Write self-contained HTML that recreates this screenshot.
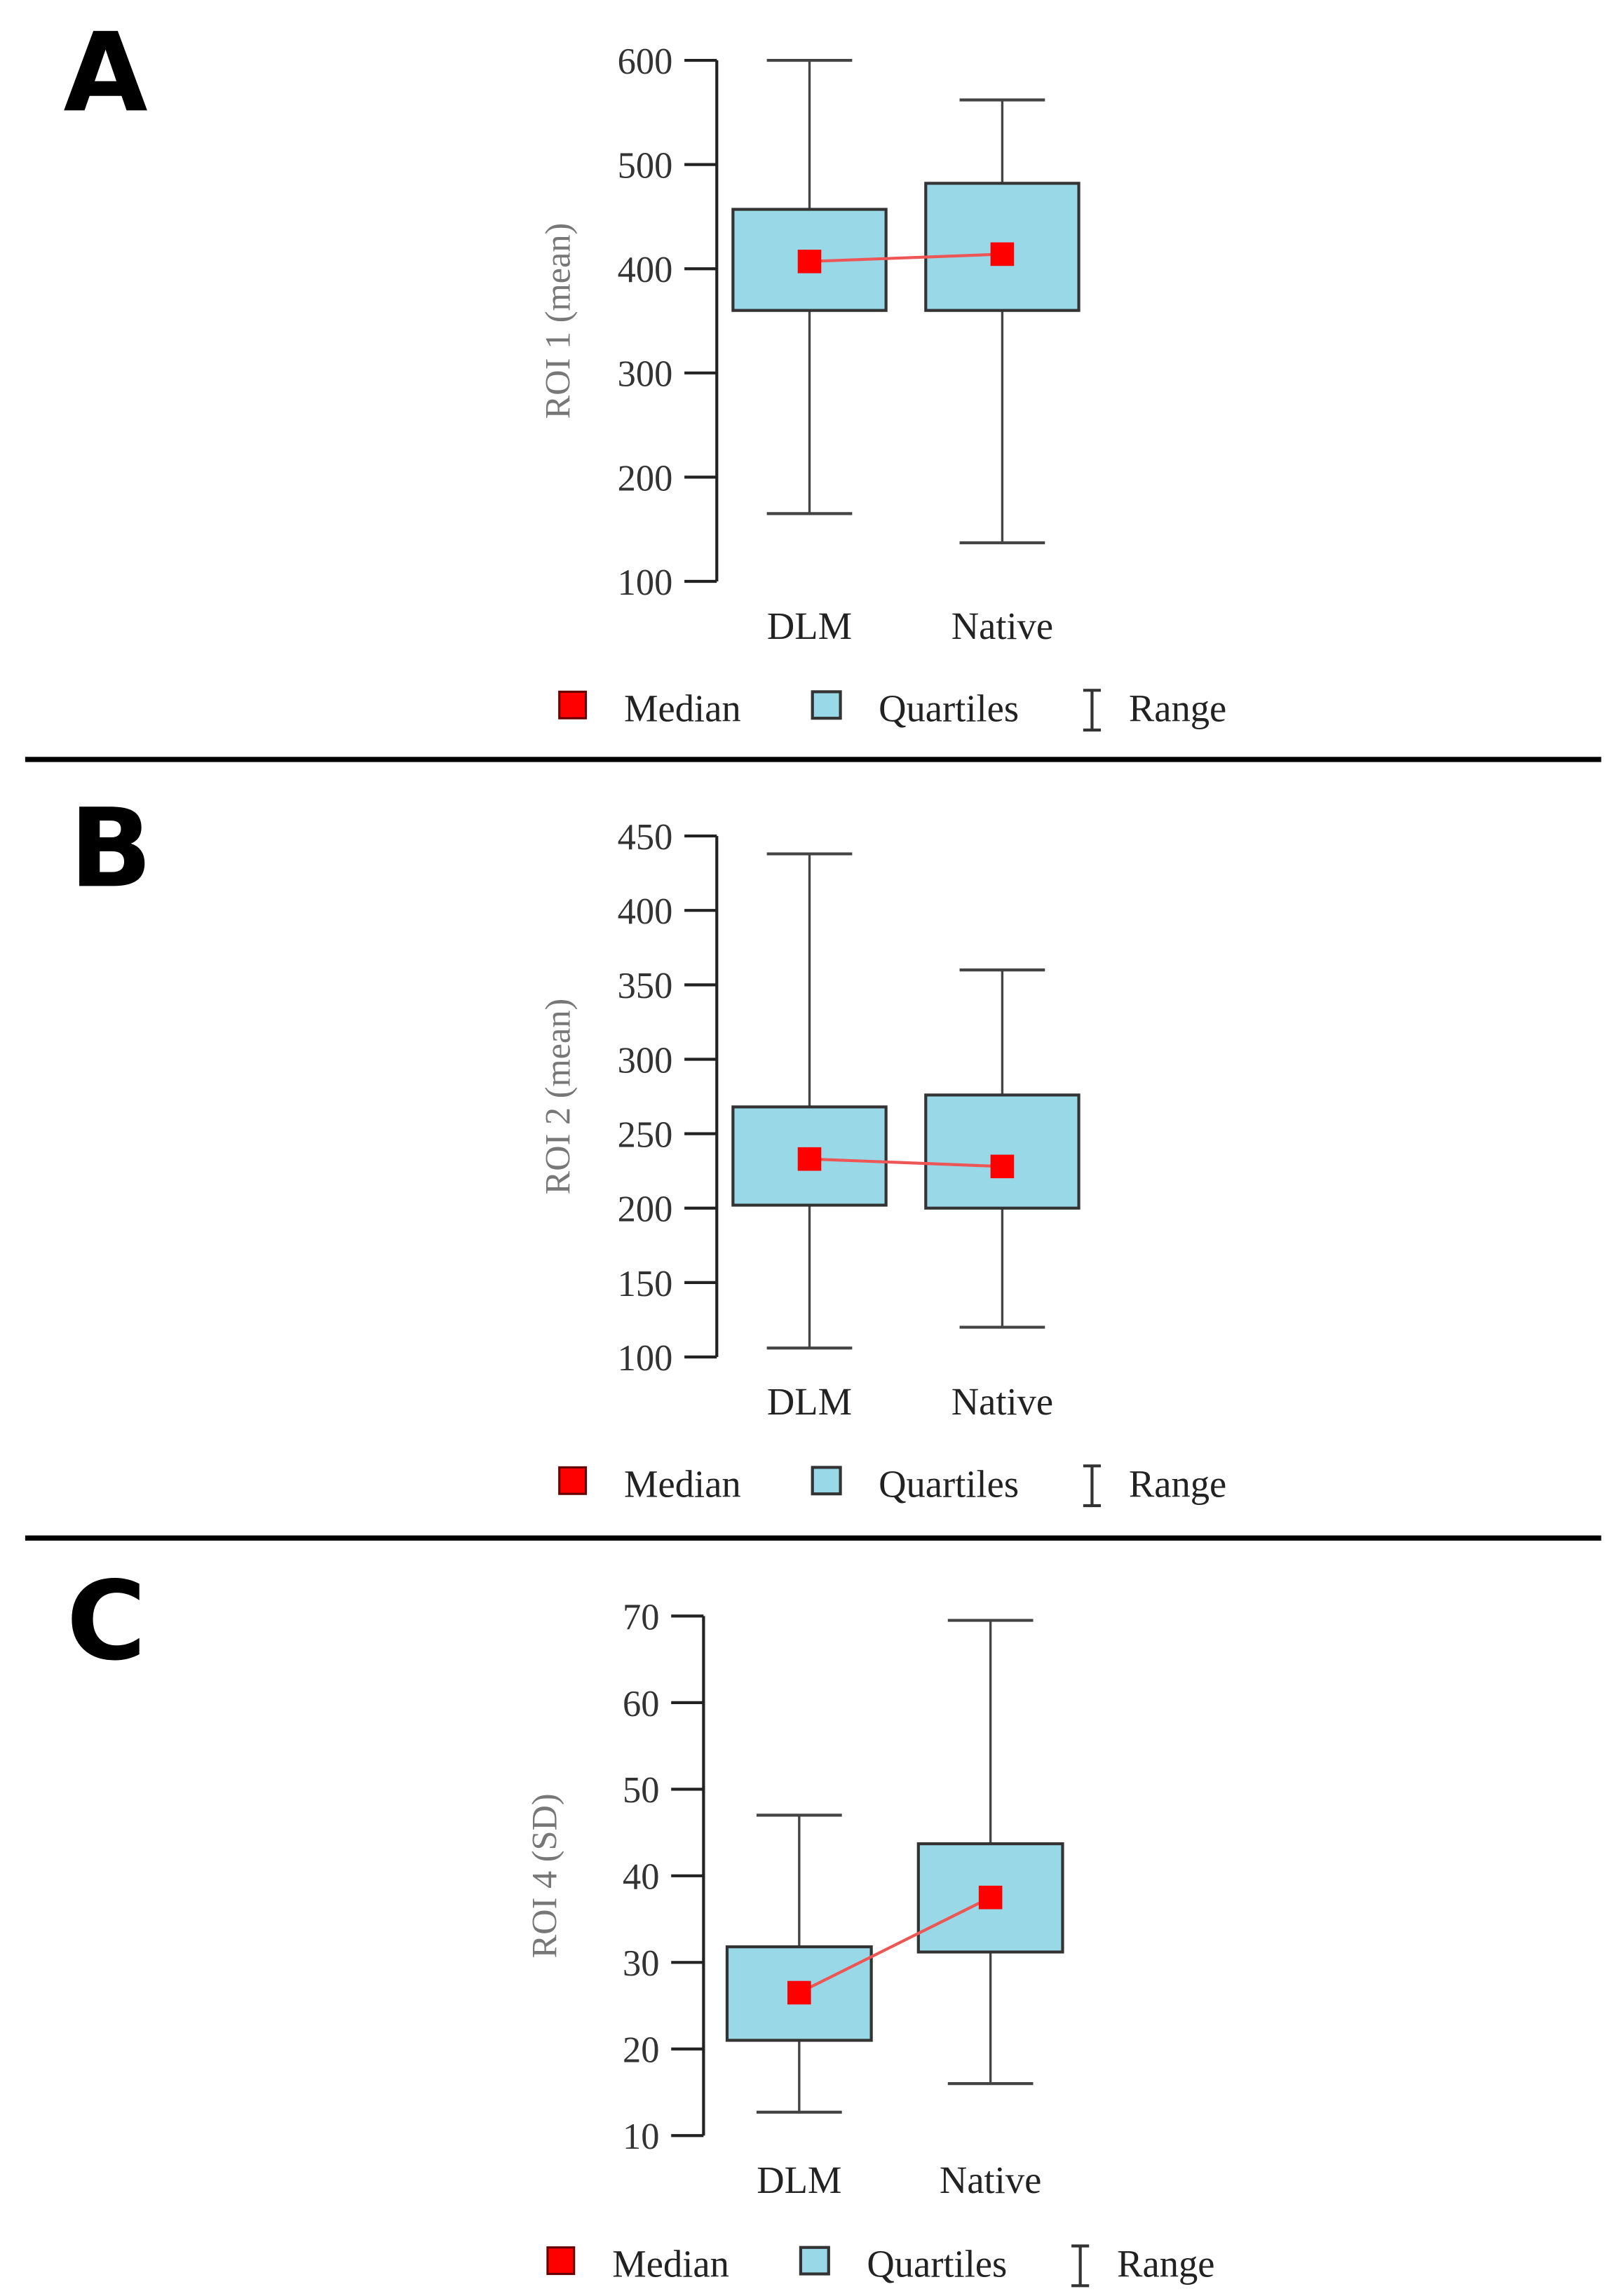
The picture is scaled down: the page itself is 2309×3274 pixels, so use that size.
<!DOCTYPE html>
<html><head><meta charset="utf-8">
<style>
html,body{margin:0;padding:0;background:#fff;}
svg{display:block;}
</style></head>
<body>
<svg id="fig" width="2309" height="3274" viewBox="0 0 1100 1560" xmlns="http://www.w3.org/2000/svg">
</svg>
<script>
// Panel A data
const catsA = ["DLM", "Native"];
const minA = [165, 137];
const q1A = [360, 360];
const medA = [407, 414];
const q3A = [457, 482];
const maxA = [600, 562];
const ticksA = [100, 200, 300, 400, 500, 600];
// Panel B data
const catsB = ["DLM", "Native"];
const minB = [106, 120];
const q1B = [202, 200];
const medB = [233, 228];
const q3B = [268, 276];
const maxB = [438, 360];
const ticksB = [100, 150, 200, 250, 300, 350, 400, 450];
// Panel C data
const catsC = ["DLM", "Native"];
const minC = [12.7, 16];
const q1C = [21, 31.2];
const medC = [26.5, 37.5];
const q3C = [31.8, 43.7];
const maxC = [47, 69.5];
const ticksC = [10, 20, 30, 40, 50, 60, 70];

const NS = "http://www.w3.org/2000/svg";
const svg = document.getElementById("fig");
function mk(tag, attrs, parent, text) {
  const e = document.createElementNS(NS, tag);
  for (const k in attrs) e.setAttribute(k, attrs[k]);
  if (text !== undefined) e.textContent = text;
  (parent || svg).appendChild(e);
  return e;
}

function panel(cfg, cats, mins, q1s, meds, q3s, maxs, ticks) {
  const g = mk("g", {});
  
  
  const lo = ticks[0], hi = ticks[ticks.length - 1];
  const y = v => cfg.yBot - (v - lo) / (hi - lo) * (cfg.yBot - cfg.yTop);
  const x = i => cfg.xc[i];

  const L = mk("text", {x: cfg.letterX, y: cfg.letterY, "font-family": "DejaVu Sans, Liberation Sans, sans-serif", "font-weight": "bold", "font-size": 74, fill: "#000"}, g, cfg.letter);
  
  

  const ax = mk("line", {x1: cfg.ax, x2: cfg.ax, y1: y(hi), y2: y(lo), stroke: "#222", "stroke-width": 2}, g);
  
  
  ticks.forEach(t => {
    const tl = mk("line", {x1: cfg.ax - 22, x2: cfg.ax, y1: y(t), y2: y(t), stroke: "#222", "stroke-width": 2}, g);
    
    
    const tt = mk("text", {x: cfg.ax - 30, y: y(t) + 9, "text-anchor": "end", "font-family": "Liberation Serif, serif", "font-size": 25, fill: "#333"}, g, String(t));
    
    
  });
  const yt = mk("text", {x: 0, y: 0, transform: `translate(${cfg.ax - 100},${(y(hi) + y(lo)) / 2}) rotate(-90)`, "text-anchor": "middle", "font-family": "Liberation Serif, serif", "font-size": 24, fill: "#777"}, g, cfg.title);
  
  

  cats.forEach((c, i) => {
    const w = mk("line", {x1: x(i), x2: x(i), y1: y(maxs[i]), y2: y(mins[i]), stroke: "#444", "stroke-width": 1.6}, g);
    
    
    [maxs[i], mins[i]].forEach(v => {
      const cap = mk("line", {x1: x(i) - 29, x2: x(i) + 29, y1: y(v), y2: y(v), stroke: "#444", "stroke-width": 2}, g);
      
      
    });
    const b = mk("rect", {x: x(i) - cfg.bw / 2, y: y(q3s[i]), width: cfg.bw, height: y(q1s[i]) - y(q3s[i]), fill: "#99d8e6", stroke: "#333", "stroke-width": 2}, g);
    
    
    const xl = mk("text", {x: x(i), y: cfg.xlabY, "text-anchor": "middle", "font-family": "Liberation Serif, serif", "font-size": 26, fill: "#222"}, g, c);
    
    
  });
  const ml = mk("line", {x1: x(0), y1: y(meds[0]), x2: x(1), y2: y(meds[1]), stroke: "#e55", "stroke-width": 2}, g);
  
  
  cats.forEach((c, i) => {
    const m = mk("rect", {x: x(i) - 8, y: y(meds[i]) - 8, width: 16, height: 16, fill: "#f00"}, g);
    
    
  });

  // legend
  const lg = mk("g", {transform: `translate(${cfg.legDx},0)`}, g);
  
  
  const ly = cfg.legY;
  const r1 = mk("rect", {x: 380, y: ly - 20, width: 18, height: 18, fill: "#f00", stroke: "#600", "stroke-width": 1.5}, lg);
  
  
  const t1 = mk("text", {x: 424, y: ly, "font-family": "Liberation Serif, serif", "font-size": 26, fill: "#222"}, lg, "Median");
  
  
  const r2 = mk("rect", {x: 552, y: ly - 20, width: 19, height: 18, fill: "#99d8e6", stroke: "#333", "stroke-width": 2}, lg);
  
  
  const t2 = mk("text", {x: 597, y: ly, "font-family": "Liberation Serif, serif", "font-size": 26, fill: "#222"}, lg, "Quartiles");
  
  
  const rg = mk("path", {d: `M736 ${ly-21} H748 M742 ${ly-21} V${ly+6} M736 ${ly+6} H748`, stroke: "#333", "stroke-width": 2, fill: "none"}, lg);
  
  
  const t3 = mk("text", {x: 767, y: ly, "font-family": "Liberation Serif, serif", "font-size": 26, fill: "#222"}, lg, "Range");
  
  

  if (cfg.sepY) {
    const s = mk("line", {x1: 17, x2: 1088, y1: cfg.sepY, y2: cfg.sepY, stroke: "#000", "stroke-width": 3.5}, g);
    
    
  }
}

panel({letter: "A", letterX: 43, letterY: 75, ax: 487, yTop: 41, yBot: 395, xc: [550, 681], bw: 104, title: "ROI 1 (mean)", xlabY: 434, legY: 490, legDx: 0, sepY: 516},
  catsA, minA, q1A, medA, q3A, maxA, ticksA);
panel({letter: "B", letterX: 47, letterY: 602, ax: 487, yTop: 568, yBot: 922, xc: [550, 681], bw: 104, title: "ROI 2 (mean)", xlabY: 961, legY: 1017, legDx: 0, sepY: 1045},
  catsB, minB, q1B, medB, q3B, maxB, ticksB);
panel({letter: "C", letterX: 45, letterY: 1127, ax: 478, yTop: 1098, yBot: 1451, xc: [543, 673], bw: 98, title: "ROI 4 (SD)", xlabY: 1490, legY: 1547, legDx: -8, sepY: 0},
  catsC, minC, q1C, medC, q3C, maxC, ticksC);
</script>
</body></html>
